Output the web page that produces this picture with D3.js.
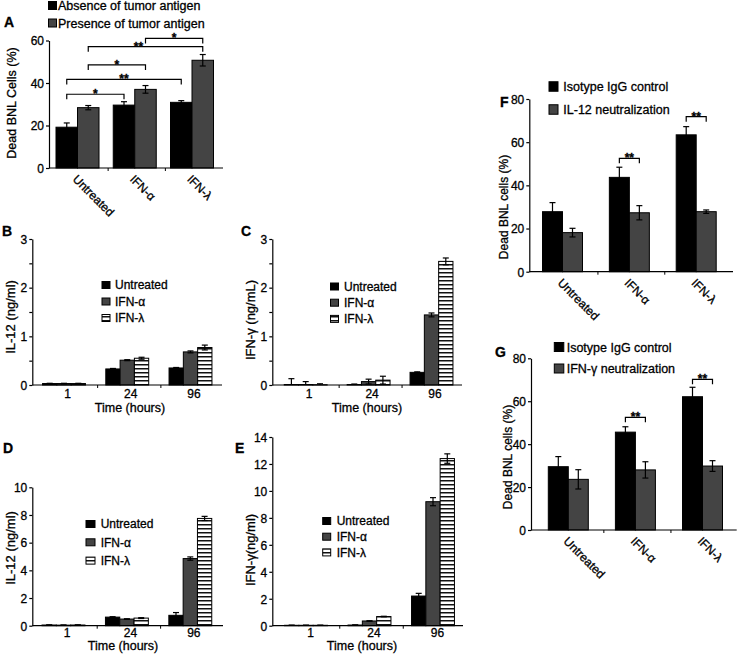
<!DOCTYPE html>
<html><head><meta charset="utf-8">
<script src="https://cdn.jsdelivr.net/npm/d3@7"></script>
<style>
body{margin:0;background:#fff}
svg{display:block}
text{font-family:"Liberation Sans",Arial,Helvetica,sans-serif;fill:#000;stroke:#000;stroke-width:0.3px}
</style>
</head><body>
<svg id="c" width="738" height="654"></svg>
<script>
// ---------------- DATA ----------------
const treatments = ["Untreated", "IFN-α", "IFN-λ"];
const timepoints = ["1", "24", "96"];

// Panel A
const legendA = ["Absence of tumor antigen", "Presence of tumor antigen"];
const aAbsence = [19.2, 29.6, 30.9];
const aAbsenceErr = [2.0, 1.6, 0.8];
const aPresence = [28.4, 37.0, 50.7];
const aPresenceErr = [1.0, 1.8, 2.7];
const aTicks = [0, 20, 40, 60];
const aBrackets = [
  {g1: "Untreated", s1: 0, g2: "IFN-α", s2: 0, level: 34.7, label: "*"},
  {g1: "Untreated", s1: 0, g2: "IFN-λ", s2: 0, level: 41.7, label: "**"},
  {g1: "Untreated", s1: 1, g2: "IFN-α", s2: 1, level: 48.5, label: "*"},
  {g1: "Untreated", s1: 1, g2: "IFN-λ", s2: 1, level: 57.1, label: "**"},
  {g1: "IFN-α", s1: 1, g2: "IFN-λ", s2: 1, level: 61.0, label: "*"}
];

// Panel B  IL-12 (ng/ml)
const bUntreated = [0.03, 0.33, 0.35];
const bUntreatedErr = [0.005, 0.01, 0.01];
const bAlpha = [0.03, 0.51, 0.68];
const bAlphaErr = [0.005, 0.01, 0.02];
const bLambda = [0.03, 0.55, 0.77];
const bLambdaErr = [0.005, 0.02, 0.05];
const bTicks = [0, 0.5, 1, 1.5, 2, 2.5, 3];

// Panel C  IFN-γ (ng/mL)
const cUntreated = [0.01, 0.01, 0.26];
const cUntreatedErr = [0.12, 0.01, 0.01];
const cAlpha = [0.01, 0.07, 1.44];
const cAlphaErr = [0.06, 0.05, 0.04];
const cLambda = [0.005, 0.10, 2.54];
const cLambdaErr = [0.02, 0.08, 0.07];
const cTicks = [0, 0.5, 1, 1.5, 2, 2.5, 3];

// Panel D  IL-12 (ng/ml)
const dUntreated = [0.05, 0.62, 0.75];
const dUntreatedErr = [0.01, 0.03, 0.2];
const dAlpha = [0.04, 0.48, 4.85];
const dAlphaErr = [0.01, 0.02, 0.12];
const dLambda = [0.05, 0.55, 7.75];
const dLambdaErr = [0.01, 0.03, 0.15];
const dTicks = [0, 2, 4, 6, 8, 10];

// Panel E  IFN-γ (ng/ml)
const eUntreated = [0.03, 0.05, 2.2];
const eUntreatedErr = [0.01, 0.01, 0.2];
const eAlpha = [0.03, 0.35, 9.2];
const eAlphaErr = [0.01, 0.02, 0.3];
const eLambda = [0.03, 0.68, 12.4];
const eLambdaErr = [0.01, 0.02, 0.35];
const eTicks = [0, 2, 4, 6, 8, 10, 12, 14];

// Panel F
const legendF = ["Isotype IgG control", "IL-12 neutralization"];
const fIsotype = [27.8, 43.7, 63.4];
const fIsotypeErr = [4.2, 4.7, 3.8];
const fNeutral = [18.1, 27.3, 27.8];
const fNeutralErr = [2.0, 3.3, 0.8];
const fTicks = [0, 20, 40, 60, 80];
const fBrackets = [
  {g1: "IFN-α", s1: 0, g2: "IFN-α", s2: 1, level: 52.5, label: "**"},
  {g1: "IFN-λ", s1: 0, g2: "IFN-λ", s2: 1, level: 71.8, label: "**"}
];

// Panel G
const legendG = ["Isotype IgG control", "IFN-γ neutralization"];
const gIsotype = [29.5, 45.6, 62.1];
const gIsotypeErr = [4.7, 2.5, 4.4];
const gNeutral = [23.6, 28.0, 29.8];
const gNeutralErr = [4.5, 3.8, 2.5];
const gTicks = [0, 20, 40, 60, 80];
const gBrackets = [
  {g1: "IFN-α", s1: 0, g2: "IFN-α", s2: 1, level: 52.5, label: "**"},
  {g1: "IFN-λ", s1: 0, g2: "IFN-λ", s2: 1, level: 70.2, label: "**"}
];

// ---------------- DRAWING ----------------
const BLACK = "#000", GRAY = "#444", STRIPE = "url(#stripes)";
const svg = d3.select("#c");
const defs = svg.append("defs");
const pat = defs.append("pattern").attr("id", "stripes")
  .attr("patternUnits", "userSpaceOnUse").attr("width", 4).attr("height", 4);
pat.append("rect").attr("width", 4).attr("height", 4).attr("fill", "#fff");
pat.append("rect").attr("y", 0).attr("width", 4).attr("height", 1.5).attr("fill", "#111");

function drawPanel(p) {
  const g = svg.append("g");
  const y = d3.scaleLinear().domain([0, p.yMax]).range([p.y0, p.yTop]);
  const x = d3.scalePoint().domain(p.groups).range(p.centers);
  const n = p.series.length;
  const inner = d3.scaleBand().domain(d3.range(n)).range([-p.barW * n / 2, p.barW * n / 2]);
  const bw = inner.bandwidth();

  p.series.forEach((s, si) => {
    const rows = p.groups.map((gn, gi) => ({g: gn, v: s.values[gi], e: s.errs[gi]}));
    g.append("g").selectAll("rect").data(rows).join("rect")
      .attr("x", d => x(d.g) + inner(si))
      .attr("y", d => y(d.v))
      .attr("width", bw)
      .attr("height", d => y(0) - y(d.v))
      .attr("fill", s.fill).attr("stroke", "#000").attr("stroke-width", 1);
  });
  p.series.forEach((s, si) => {
    const rows = p.groups.map((gn, gi) => ({g: gn, v: s.values[gi], e: s.errs[gi]}));
    const eg = g.append("g").attr("stroke", "#000").attr("stroke-width", 1.2);
    rows.forEach(d => {
      const cx = x(d.g) + inner(si) + bw / 2;
      const top = y(d.v + d.e), bot = y(Math.max(0, d.v - d.e));
      eg.append("line").attr("x1", cx).attr("x2", cx).attr("y1", top).attr("y2", bot);
      eg.append("line").attr("x1", cx - p.cap).attr("x2", cx + p.cap).attr("y1", top).attr("y2", top);
      if (d.v - d.e > 0) eg.append("line").attr("x1", cx - p.cap).attr("x2", cx + p.cap).attr("y1", bot).attr("y2", bot);
    });
  });

  // y axis
  const ya = g.append("g").attr("transform", `translate(${p.axisX},0)`)
    .call(d3.axisLeft(y).tickValues(p.ticks).tickSize(3).tickSizeOuter(0).tickPadding(2)
      .tickFormat(d => Number.isInteger(d) ? d : ""));
  ya.attr("font-family", null).attr("font-size", null);
  ya.selectAll("text").style("font-size", "12px").attr("dy", "0.36em");
  ya.selectAll("path,line").attr("stroke", "#000").attr("stroke-width", 1.2);

  // x axis line + boundary ticks
  g.append("line").attr("x1", p.axisX).attr("x2", p.axisEnd).attr("y1", p.y0).attr("y2", p.y0)
    .attr("stroke", "#000").attr("stroke-width", 1.2);
  for (let i = 0; i < p.groups.length - 1; i++) {
    const mx = (x(p.groups[i]) + x(p.groups[i + 1])) / 2 + 2;
    g.append("line").attr("x1", mx).attr("x2", mx).attr("y1", p.y0).attr("y2", p.y0 + 3)
      .attr("stroke", "#000").attr("stroke-width", 1);
  }

  // x tick labels via axis
  const xa = g.append("g").attr("transform", `translate(0,${p.y0})`)
    .call(d3.axisBottom(x).tickSize(0));
  xa.attr("font-family", null).attr("font-size", null);
  xa.select(".domain").remove();
  if (p.rotate) {
    xa.selectAll("text").attr("x", null).attr("y", null).attr("dy", null)
      .attr("text-anchor", "start").style("font-size", "12px")
      .attr("transform", `translate(${p.labelDx},${p.labelDy}) rotate(45)`);
  } else {
    xa.selectAll("text").attr("x", p.labelDx).attr("y", p.labelDy).attr("dy", null)
      .attr("text-anchor", "middle").style("font-size", "12px");
  }

  if (p.xTitle) {
    g.append("text").attr("x", p.xTitle[0]).attr("y", p.xTitle[1]).attr("text-anchor", "middle")
      .style("font-size", "12.5px").text(p.xTitle[2]);
  }
  g.append("text").attr("transform", `translate(${p.yTitle[0]},${p.yTitle[1]}) rotate(-90)`)
    .attr("text-anchor", "middle").attr("dy", "0.35em")
    .style("font-size", p.yTitleSize || "12.5px").text(p.yTitle[2]);

  // panel letter
  g.append("text").attr("x", p.letter[0]).attr("y", p.letter[1])
    .style("font-size", "14px").style("font-weight", "bold").text(p.letter[2]);

  // legend
  const L = p.legend;
  L.items.forEach((t, i) => {
    const cy = L.y + i * L.dy;
    g.append("rect").attr("x", L.x).attr("y", cy - L.h / 2).attr("width", L.w).attr("height", L.h)
      .attr("fill", p.series[i].fill).attr("stroke", "#000").attr("stroke-width", 1);
    g.append("text").attr("x", L.tx).attr("y", cy).attr("dy", "0.36em")
      .style("font-size", L.size || "12px").text(t);
  });

  // significance brackets
  (p.brackets || []).forEach(b => {
    const xa1 = x(b.g1) + inner(b.s1) + bw / 2;
    const xa2 = x(b.g2) + inner(b.s2) + bw / 2;
    const yy = y(b.level);
    g.append("path").attr("d", `M${xa1},${yy + p.drop}V${yy}H${xa2}V${yy + p.drop}`)
      .attr("fill", "none").attr("stroke", "#000").attr("stroke-width", 1.2);
    const mid = (xa1 + xa2) / 2 + (b.dx || 0);
    g.append("text").attr("x", mid).attr("y", yy + 4).attr("text-anchor", "middle")
      .style("font-size", "12px").style("font-weight", "bold").text(b.label);
  });
}

function triple(v1, e1, v2, e2, v3, e3) {
  return [{values: v1, errs: e1, fill: BLACK}, {values: v2, errs: e2, fill: GRAY}, {values: v3, errs: e3, fill: STRIPE}];
}

// A
const aBr = aBrackets.map((b, i) => Object.assign({}, b, i === 3 ? {dx: -7} : {}));
drawPanel({
  groups: treatments, series: [{values: aAbsence, errs: aAbsenceErr, fill: BLACK}, {values: aPresence, errs: aPresenceErr, fill: GRAY}],
  yMax: 60, y0: 168, yTop: 40.5, ticks: aTicks, axisX: 49, axisEnd: 223,
  centers: [77.5, 192], barW: 21.5, cap: 3, rotate: true, labelDx: -6, labelDy: 12,
  yTitle: [12, 103, "Dead BNL Cells (%)"], letter: [4, 27, "A"],
  legend: {items: legendA, x: 48.5, y: 5.5, dy: 17.5, w: 8, h: 8, tx: 58, size: "12.5px"},
  brackets: aBr, drop: 5
});
// B
drawPanel({
  groups: timepoints, series: triple(bUntreated, bUntreatedErr, bAlpha, bAlphaErr, bLambda, bLambdaErr),
  yMax: 3, y0: 385, yTop: 239, ticks: bTicks, axisX: 32.3, axisEnd: 222,
  centers: [64, 190.5], barW: 14.3, cap: 3, rotate: false, labelDx: 3, labelDy: 12.5,
  xTitle: [130, 412, "Time (hours)"], yTitle: [10, 317, "IL-12 (ng/ml)"], yTitleSize: "13px", letter: [2, 236, "B"],
  legend: {items: treatments, x: 102, y: 285, dy: 16.5, w: 8, h: 7, tx: 115}
});
// C
drawPanel({
  groups: timepoints, series: triple(cUntreated, cUntreatedErr, cAlpha, cAlphaErr, cLambda, cLambdaErr),
  yMax: 3, y0: 385, yTop: 239, ticks: cTicks, axisX: 272.3, axisEnd: 462,
  centers: [305.7, 431.5], barW: 14.3, cap: 3, rotate: false, labelDx: 3, labelDy: 12.5,
  xTitle: [367, 412, "Time (hours)"], yTitle: [250, 320, "IFN-γ (ng/mL)"], yTitleSize: "13px", letter: [241, 236, "C"],
  legend: {items: treatments, x: 330.5, y: 286.5, dy: 16.2, w: 8, h: 7, tx: 344}
});
// D
drawPanel({
  groups: timepoints, series: triple(dUntreated, dUntreatedErr, dAlpha, dAlphaErr, dLambda, dLambdaErr),
  yMax: 10, y0: 625.7, yTop: 487.3, ticks: dTicks, axisX: 32.3, axisEnd: 223,
  centers: [63.5, 190.3], barW: 14.3, cap: 3, rotate: false, labelDx: 3, labelDy: 11,
  xTitle: [123, 649.5, "Time (hours)"], yTitle: [10, 548, "IL-12 (ng/ml)"], yTitleSize: "13px", letter: [3, 453, "D"],
  legend: {items: treatments, x: 86, y: 524, dy: 18.3, w: 9, h: 7, tx: 100.7}
});
// E
drawPanel({
  groups: timepoints, series: triple(eUntreated, eUntreatedErr, eAlpha, eAlphaErr, eLambda, eLambdaErr),
  yMax: 14, y0: 625.7, yTop: 437, ticks: eTicks, axisX: 272.3, axisEnd: 463,
  centers: [306, 433], barW: 14.3, cap: 3, rotate: false, labelDx: 4, labelDy: 11,
  xTitle: [362, 649.5, "Time (hours)"], yTitle: [250, 550, "IFN-γ(ng/ml)"], yTitleSize: "13px", letter: [235, 453, "E"],
  legend: {items: treatments, x: 322.7, y: 521, dy: 15.7, w: 8, h: 7, tx: 336.7}
});
// F
drawPanel({
  groups: treatments, series: [{values: fIsotype, errs: fIsotypeErr, fill: BLACK}, {values: fNeutral, errs: fNeutralErr, fill: GRAY}],
  yMax: 80, y0: 271.7, yTop: 99, ticks: fTicks, axisX: 529.3, axisEnd: 733,
  centers: [562.5, 696.2], barW: 20, cap: 3, rotate: true, labelDx: -6, labelDy: 12,
  yTitle: [503.5, 207, "Dead BNL cells (%)"], yTitleSize: "12px", letter: [500, 107, "F"],
  legend: {items: legendF, x: 549, y: 86.5, dy: 23, w: 9, h: 9.5, tx: 563.3, size: "12.5px"},
  brackets: fBrackets, drop: 5
});
// G
drawPanel({
  groups: treatments, series: [{values: gIsotype, errs: gIsotypeErr, fill: BLACK}, {values: gNeutral, errs: gNeutralErr, fill: GRAY}],
  yMax: 80, y0: 530, yTop: 358.3, ticks: gTicks, axisX: 531, axisEnd: 736.7,
  centers: [568.3, 702.5], barW: 20, cap: 3, rotate: true, labelDx: -6, labelDy: 12,
  yTitle: [507.5, 457, "Dead BNL cells (%)"], yTitleSize: "12px", letter: [495, 357, "G"],
  legend: {items: legendG, x: 554.3, y: 347, dy: 21.5, w: 9.5, h: 9, tx: 566.7, size: "12.5px"},
  brackets: gBrackets, drop: 5
});
</script>
</body></html>
